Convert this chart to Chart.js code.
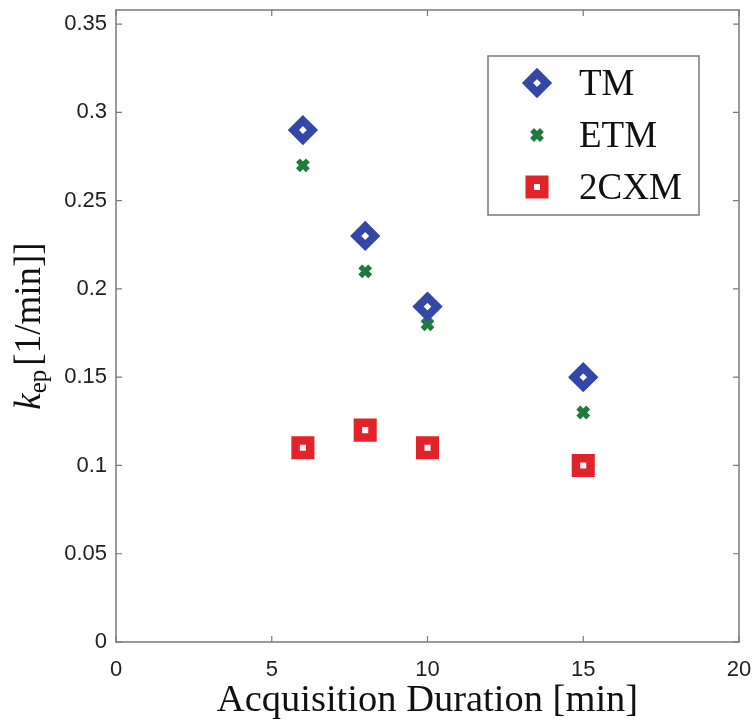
<!DOCTYPE html>
<html>
<head>
<meta charset="utf-8">
<script src="https://cdn.jsdelivr.net/npm/chart.js@4.4.0/dist/chart.umd.min.js"></script>
<style>
  html, body { margin: 0; padding: 0; background: #fff; }
</style>
</head>
<body>
<canvas id="myChart" width="754" height="724"></canvas>
<script>
const durations = [6, 8, 10, 15];
const tmValues = [0.29, 0.23, 0.19, 0.15];
const etmValues = [0.27, 0.21, 0.18, 0.13];
const cxmValues = [0.11, 0.12, 0.11, 0.10];
const seriesNames = ['TM', 'ETM', '2CXM'];
const xTicks = [0, 5, 10, 15, 20];
const yTicks = [0, 0.05, 0.1, 0.15, 0.2, 0.25, 0.3, 0.35];

const serif = '"Liberation Serif", "Times New Roman", serif';
const sans = '"Liberation Sans", Arial, sans-serif';
const frameColor = '#7a7a7a';

function toPoints(values) {
    return values.map((v, i) => ({ x: durations[i], y: v }));
}

// fixed axis sizes, no extra room for overhanging labels
function fixSize(prop, size) {
    return scale => {
        scale[prop] = size;
        scale.paddingTop = 0;
        scale.paddingBottom = 0;
        scale.paddingLeft = 0;
        scale.paddingRight = 0;
    };
}

// box around the plot with inward tick marks (matlab style)
const framePlugin = {
    id: 'frame',
    beforeDatasetsDraw(chart) {
        const { ctx, chartArea: a, scales } = chart;
        const len = 6;
        ctx.save();
        ctx.strokeStyle = frameColor;
        ctx.lineWidth = 1.5;
        ctx.strokeRect(a.left, a.top, a.right - a.left, a.bottom - a.top);
        ctx.lineWidth = 1.2;
        ctx.beginPath();
        for (const v of yTicks) {
            const y = scales.y.getPixelForValue(v);
            ctx.moveTo(a.left, y); ctx.lineTo(a.left + len, y);
            ctx.moveTo(a.right, y); ctx.lineTo(a.right - len, y);
        }
        for (const v of xTicks) {
            const x = scales.x.getPixelForValue(v);
            ctx.moveTo(x, a.bottom); ctx.lineTo(x, a.bottom - len);
            ctx.moveTo(x, a.top); ctx.lineTo(x, a.top + len);
        }
        ctx.stroke();
        ctx.restore();
    }
};

// y title with a subscript: k_ep [1/min]]
const yTitlePlugin = {
    id: 'yTitle',
    afterDraw(chart) {
        const { ctx, chartArea: a } = chart;
        const big = '37px ' + serif;
        const small = '25px ' + serif;
        ctx.save();
        ctx.translate(40, (a.top + a.bottom) / 2);
        ctx.rotate(-Math.PI / 2);
        ctx.fillStyle = '#111';
        ctx.textBaseline = 'alphabetic';
        ctx.font = 'italic ' + big;
        const kW = ctx.measureText('k').width;
        ctx.font = small;
        const subW = ctx.measureText('ep').width;
        ctx.font = big;
        const rest = '[1/min]]';
        const restW = ctx.measureText(rest).width;
        const gap = 4;
        let x = -(kW + subW + gap + restW) / 2;
        ctx.font = 'italic ' + big;
        ctx.fillText('k', x, 0);
        x += kW;
        ctx.font = small;
        ctx.fillText('ep', x, 6);
        x += subW + gap;
        ctx.font = big;
        ctx.fillText(rest, x, 0);
        ctx.restore();
    }
};

// boxed legend inside the plot, upper right
const legendPlugin = {
    id: 'boxLegend',
    afterDraw(chart) {
        const { ctx } = chart;
        const box = { x: 488, y: 56, w: 211, h: 159 };
        ctx.save();
        ctx.fillStyle = '#fff';
        ctx.fillRect(box.x, box.y, box.w, box.h);
        ctx.strokeStyle = frameColor;
        ctx.lineWidth = 1.5;
        ctx.strokeRect(box.x, box.y, box.w, box.h);
        chart.data.datasets.forEach((ds, i) => {
            const cy = 83 + i * 52;
            ctx.fillStyle = ds.backgroundColor;
            ctx.strokeStyle = ds.borderColor;
            ctx.lineWidth = ds.borderWidth;
            Chart.helpers.drawPoint(ctx, {
                pointStyle: ds.pointStyle,
                radius: ds.pointRadius,
                borderWidth: ds.borderWidth,
                rotation: 0
            }, 537, cy);
            ctx.fillStyle = '#111';
            ctx.font = '37px ' + serif;
            ctx.textBaseline = 'middle';
            ctx.fillText(ds.label, 579, cy + 2);
        });
        ctx.restore();
    }
};

const ctx = document.getElementById('myChart').getContext('2d');
new Chart(ctx, {
    type: 'scatter',
    data: {
        datasets: [{
            label: seriesNames[0],
            data: toPoints(tmValues),
            pointStyle: 'rectRot',
            pointRadius: 9.5,
            borderWidth: 8,
            borderColor: '#3447a6',
            backgroundColor: '#ffffff'
        },
        {
            label: seriesNames[1],
            data: toPoints(etmValues),
            pointStyle: 'crossRot',
            pointRadius: 7,
            borderWidth: 5.5,
            borderColor: '#1e7b3c',
            backgroundColor: '#1e7b3c'
        },
        {
            label: seriesNames[2],
            data: toPoints(cxmValues),
            pointStyle: 'rect',
            pointRadius: 10.3,
            borderWidth: 8.5,
            borderColor: '#e3232a',
            backgroundColor: '#ffffff'
        }]
    },
    options: {
        responsive: false,
        animation: false,
        events: [],
        layout: { autoPadding: false, padding: { top: 10, right: 15, left: 0, bottom: 0 } },
        plugins: {
            legend: { display: false },
            tooltip: { enabled: false }
        },
        scales: {
            x: {
                type: 'linear',
                min: 0,
                max: 20,
                afterFit: fixSize('height', 82),
                afterBuildTicks(scale) { scale.ticks = xTicks.map(v => ({ value: v })); },
                grid: { display: false, drawTicks: false },
                border: { display: false },
                ticks: {
                    padding: 15,
                    color: '#222',
                    font: { family: sans, size: 22 },
                    callback: v => String(v)
                },
                title: {
                    display: true,
                    text: 'Acquisition Duration [min]',
                    color: '#111',
                    font: { family: serif, size: 38.5 },
                    padding: { top: 0, bottom: 0 }
                }
            },
            y: {
                min: 0,
                max: 0.358,
                afterFit: fixSize('width', 116),
                afterBuildTicks(scale) { scale.ticks = yTicks.map(v => ({ value: v })); },
                grid: { display: false, drawTicks: false },
                border: { display: false },
                ticks: {
                    padding: 9,
                    color: '#222',
                    font: { family: sans, size: 22 },
                    callback: v => String(v)
                }
            }
        }
    },
    plugins: [framePlugin, yTitlePlugin, legendPlugin]
});
</script>
</body>
</html>
